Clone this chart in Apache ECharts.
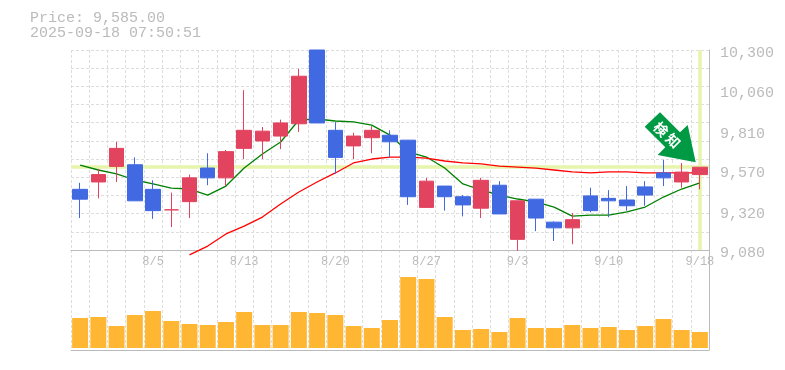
<!DOCTYPE html>
<html>
<head>
<meta charset="utf-8">
<style>
html, body { margin: 0; padding: 0; background: #fff; }
#chart { width: 785px; height: 370px; }
</style>
<script src="https://cdn.jsdelivr.net/npm/echarts@6/dist/echarts.min.js"></script>
</head>
<body>
<div id="chart"></div>
<script>
const dates = ['7/30','7/31','8/1','8/4','8/5','8/6','8/7','8/8','8/12','8/13','8/14','8/15','8/18','8/19','8/20','8/21','8/22','8/25','8/26','8/27','8/28','8/29','9/1','9/2','9/3','9/4','9/5','9/8','9/9','9/10','9/11','9/12','9/16','9/17','9/18'];
// open, close, low, high
const candles = [
    [9450,9390,9275,9490],[9495,9540,9395,9575],[9590,9700,9495,9740],[9600,9380,9380,9645],[9450,9320,9270,9505],
    [9325,9325,9220,9430],[9375,9520,9275,9540],[9580,9520,9475,9670],[9520,9680,9470,9690],[9700,9810,9635,10055],
    [9745,9805,9635,9830],[9775,9855,9695,9875],[9850,10140,9800,10185],[10300,9855,9855,10300],[9810,9645,9545,9860],
    [9715,9775,9635,9795],[9765,9810,9670,9835],[9780,9740,9645,9810],[9750,9405,9355,9750],[9340,9500,9340,9520],
    [9470,9405,9320,9470],[9405,9355,9285,9415],[9335,9505,9275,9520],[9475,9300,9300,9500],[9145,9380,9075,9380],
    [9390,9275,9195,9390],[9250,9215,9135,9255],[9215,9265,9115,9305],[9410,9320,9310,9460],[9395,9380,9280,9445],
    [9385,9350,9320,9470],[9465,9415,9350,9500],[9550,9520,9470,9630],[9495,9555,9460,9610],[9540,9585,9450,9585]
];
const maShort = [9598,9568,9544,9507,9483,9458,9452,9415,9470,9580,9666,9739,9873,9879,9867,9861,9842,9781,9678,9647,9580,9483,9446,9415,9391,9373,9342,9287,9293,9293,9312,9342,9403,9452,9489];
const maLong = [null,null,null,null,null,null,9050,9104,9178,9226,9281,9361,9434,9495,9550,9611,9635,9647,9647,9641,9623,9611,9605,9592,9586,9580,9568,9556,9550,9556,9556,9550,9550,9550,9550];
const volumes = [30,31,22,33,37,27,24,23,26,36,23,23,36,35,33,22,20,28,71,69,31,18,19,16,30,20,20,23,20,21,18,22,29,18,16];
const priceLabels = [10300,10060,9810,9570,9320,9080];
const priceMin = 9080;
const priceMax = 10300;
const gridRows = 11;
const lastPrice = 9585;
const lastTime = '2025-09-18 07:50:51';

const gridValues = [];
for (let i = 0; i <= gridRows; i++) {
    gridValues.push(priceMin + (priceMax - priceMin) * i / gridRows);
}

const mono = '"Liberation Mono", monospace';
const gray = '#bbbbbb';
const dash = {color: '#dddddd', type: [3, 2], width: 1};
const up = '#e2435f';
const down = '#4169e1';
const glow = '#e6f5ab';

const myChart = echarts.init(document.getElementById('chart'));
myChart.setOption({
    animation: false,
    backgroundColor: '#ffffff',
    title: {
        text: 'Price: ' + lastPrice.toLocaleString('en-US', {minimumFractionDigits: 2}) + '\n' + lastTime,
        left: 30,
        top: 11,
        padding: 0,
        textStyle: {color: gray, fontFamily: mono, fontSize: 15, fontWeight: 'normal', lineHeight: 15}
    },
    grid: [
        {left: 71, width: 638, top: 50, height: 200},
        {left: 71, width: 638, top: 250, height: 100}
    ],
    xAxis: [
        {
            type: 'category',
            gridIndex: 0,
            data: dates,
            axisLine: {onZero: false, lineStyle: {color: gray, width: 1}},
            axisTick: {show: false},
            splitLine: {show: true, interval: 0, lineStyle: dash},
            axisLabel: {
                color: gray,
                fontFamily: mono,
                fontSize: 12,
                margin: 6,
                interval: (i) => i % 5 === 4
            }
        },
        {
            type: 'category',
            gridIndex: 1,
            data: dates,
            axisLine: {onZero: false, lineStyle: {color: gray, width: 1}},
            axisTick: {show: false},
            axisLabel: {show: false},
            splitLine: {show: true, interval: 0, lineStyle: dash}
        }
    ],
    yAxis: [
        {
            type: 'value',
            gridIndex: 0,
            position: 'right',
            min: priceMin,
            max: priceMax,
            axisLine: {show: true, lineStyle: {color: gray, width: 1}},
            axisTick: {show: false, customValues: gridValues},
            splitLine: {show: true, lineStyle: dash},
            axisLabel: {
                customValues: priceLabels,
                color: gray,
                fontFamily: mono,
                fontSize: 15,
                margin: 11,
                verticalAlign: 'top',
                lineHeight: 7,
                formatter: (v) => v.toLocaleString('en-US')
            }
        },
        {
            type: 'value',
            gridIndex: 1,
            position: 'right',
            min: -2,
            max: 98,
            axisLine: {show: true, lineStyle: {color: gray, width: 1}},
            axisTick: {show: false},
            axisLabel: {show: false},
            splitLine: {show: false}
        }
    ],
    series: [
        {
            name: 'MA short',
            type: 'line',
            data: maShort,
            z: 6,
            clip: false,
            symbol: 'none',
            lineStyle: {color: '#008000', width: 1.3},
            markLine: {
                silent: true,
                z: 1,
                symbol: 'none',
                label: {show: false},
                lineStyle: {color: glow, width: 3.5, type: 'solid'},
                data: [
                    {yAxis: lastPrice},
                    {xAxis: dates[dates.length - 1]}
                ]
            }
        },
        {
            name: 'MA long',
            type: 'line',
            data: maLong,
            z: 6,
            clip: false,
            symbol: 'none',
            lineStyle: {color: '#ff0000', width: 1.3}
        },
        {
            name: 'Price',
            type: 'candlestick',
            data: candles,
            z: 10,
            barWidth: 15,
            itemStyle: {color: up, color0: down, borderColor: up, borderColor0: down, borderWidth: 1}
        },
        {
            name: 'Volume',
            type: 'bar',
            xAxisIndex: 1,
            yAxisIndex: 1,
            data: volumes,
            barWidth: 16,
            itemStyle: {color: '#ffb733'}
        }
    ],
    graphic: [
        {
            type: 'polygon',
            z: 20,
            shape: {points: [[660, 112.3], [644.7, 126.7], [665.3, 147.3], [657.7, 155], [695.7, 162.3], [687.7, 125], [680, 132.3]]},
            style: {fill: '#009944'}
        },
        {
            type: 'text',
            z: 21,
            x: 661,
            y: 129.3,
            rotation: -Math.PI / 4,
            style: {text: '検', fill: '#ffffff', font: 'bold 14px "Noto Sans CJK JP"', align: 'center', verticalAlign: 'middle'}
        },
        {
            type: 'text',
            z: 21,
            x: 673.3,
            y: 140.7,
            rotation: -Math.PI / 4,
            style: {text: '知', fill: '#ffffff', font: 'bold 14px "Noto Sans CJK JP"', align: 'center', verticalAlign: 'middle'}
        }
    ]
});
</script>
</body>
</html>
